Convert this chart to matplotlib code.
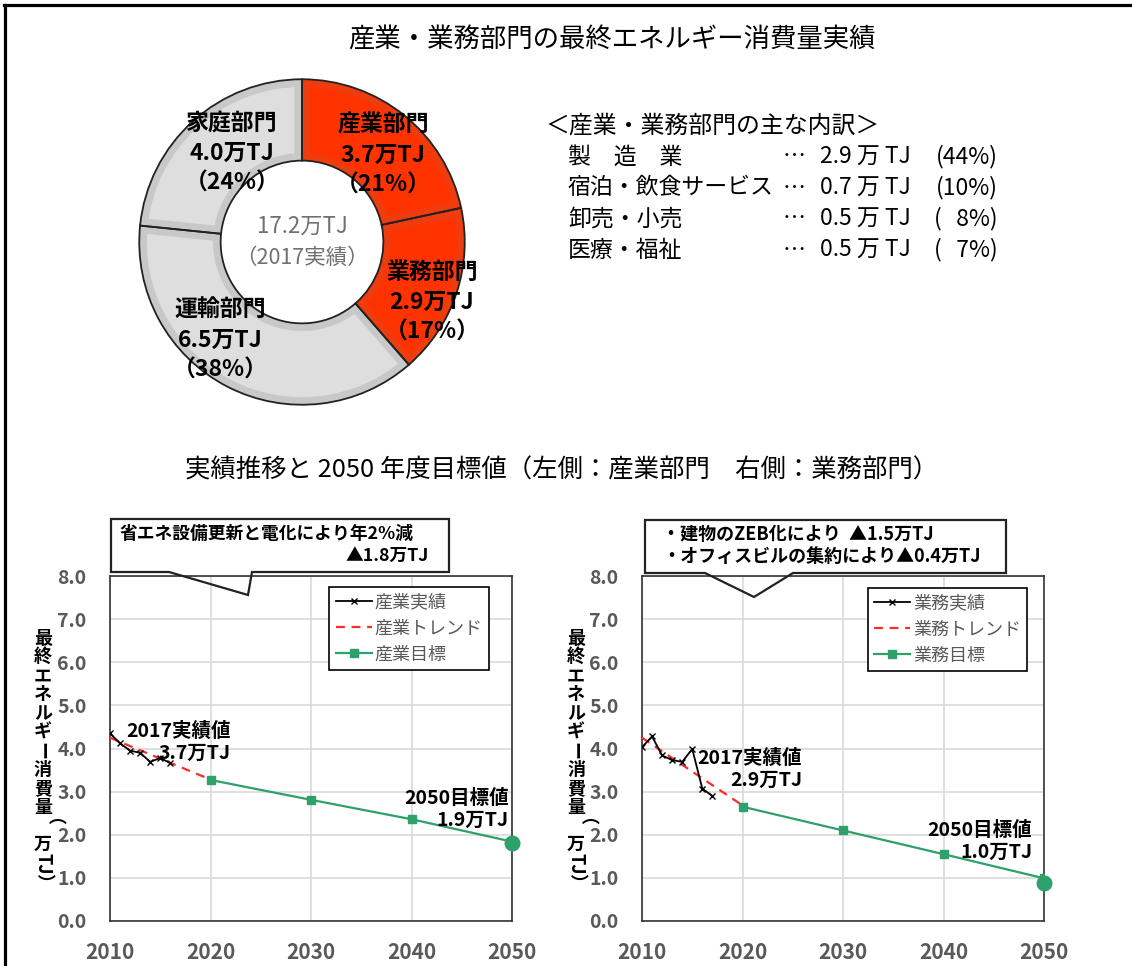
import matplotlib
matplotlib.use('Agg')
import matplotlib.pyplot as plt
from matplotlib.lines import Line2D
from matplotlib.patches import Polygon

plt.rcParams['font.family'] = ['Noto Sans CJK JP', 'DejaVu Sans']

W, H = 1132, 966

# ---------------- data ----------------
title = "産業・業務部門の最終エネルギー消費量実績"
sectors = ["産業部門", "業務部門", "運輸部門", "家庭部門"]
sector_values = [3.7, 2.9, 6.5, 4.0]
sector_pcts = [21, 17, 38, 24]
sector_colors = ["#FF3300", "#FF3300", "#DEDEDE", "#DEDEDE"]
sector_bands = ["#EE3C0E", "#EE3C0E", "#C8C8C8", "#C8C8C8"]
total_value = 17.2
total_note = "（2017実績）"

breakdown_title = "＜産業・業務部門の主な内訳＞"
breakdown_labels = ["製　造　業", "宿泊・飲食サービス", "卸売・小売", "医療・福祉"]
breakdown_values = [2.9, 0.7, 0.5, 0.5]
breakdown_pcts = [44, 10, 8, 7]

subtitle = "実績推移と 2050 年度目標値（左側：産業部門　右側：業務部門）"

target_years = [2020, 2030, 2040, 2050]
trend_years = [2010, 2020]

ind_actual_years = [2010, 2011, 2012, 2013, 2014, 2015, 2016]
ind_actual = [4.35, 4.12, 3.95, 3.90, 3.69, 3.78, 3.66]
ind_trend = [4.25, 3.28]
ind_target = [3.27, 2.81, 2.36, 1.84]
ind_goal_2050 = 1.80

com_actual_years = [2010, 2011, 2012, 2013, 2014, 2015, 2016, 2017]
com_actual = [4.03, 4.28, 3.84, 3.73, 3.69, 3.99, 3.07, 2.90]
com_trend = [4.25, 2.68]
com_target = [2.65, 2.10, 1.55, 0.99]
com_goal_2050 = 0.88

x_ticks = [2010, 2020, 2030, 2040, 2050]
y_ticks = [0, 1, 2, 3, 4, 5, 6, 7, 8]

ylabel_chars = ["最", "終", "エ", "ネ", "ル", "ギ", "ー", "消", "費", "量", "（", "万", "TJ", "）"]
ylabel_rot = ["ー", "（", "TJ", "）"]

GREEN = "#2EA06A"
RED = "#FF2A2A"
GRAY_TXT = "#595959"

fig = plt.figure(figsize=(W / 100, H / 100), dpi=100)


def fx(x):
    return x / W


def fy(y):
    return 1 - y / H


def ftext(x, y, s, **kw):
    kw.setdefault('va', 'center')
    return fig.text(fx(x), fy(y), s, **kw)


# figure frame (top + left)
fig.add_artist(Line2D([fx(5), fx(5)], [fy(5), fy(966)], color='black', lw=2.3))
fig.add_artist(Line2D([fx(4), fx(1132)], [fy(5), fy(5)], color='black', lw=2.3))

# title
ftext(612, 40, title, ha='center', fontsize=19, color='black')

# ---------------- donut ----------------
cx, cy, R = 302, 242, 166
axp = fig.add_axes([fx(cx - R), fy(cy + R), 2 * R / W, 2 * R / H])
axp.set_aspect('equal')
wedges, _ = axp.pie(sector_values, startangle=90, counterclock=False,
                    colors=sector_colors, radius=1,
                    wedgeprops=dict(width=0.5, edgecolor='none'))
for w, band in zip(wedges, sector_bands):
    w.set_edgecolor(band)
    w.set_linewidth(11)
    w.set_clip_on(True)
    w.set_clip_path(w)
axp.pie(sector_values, startangle=90, counterclock=False, radius=1,
        colors=['none'] * len(sector_values),
        wedgeprops=dict(width=0.5, edgecolor='#222222', linewidth=1.3, fill=False))
axp.set_xlim(-1.02, 1.02)
axp.set_ylim(-1.02, 1.02)
axp.axis('off')

label_pos = [(383, 125), (432, 272), (220, 310), (232, 123)]
for name, v, p, (lx, ly) in zip(sectors, sector_values, sector_pcts, label_pos):
    ftext(lx, ly, name, ha='center', fontsize=16.5, fontweight='bold')
    ftext(lx, ly + 30, f"{v:.1f}万TJ", ha='center', fontsize=16.5, fontweight='bold')
    ftext(lx, ly + 60, f"（{p}%）", ha='center', fontsize=16.5, fontweight='bold')

ftext(302, 226, f"{total_value:.1f}万TJ", ha='center', fontsize=16, color='#707070')
ftext(302, 258, total_note, ha='center', fontsize=15.5, color='#707070')

# ---------------- breakdown ----------------
ftext(546, 126, breakdown_title, ha='left', fontsize=17.2)
for i, (lab, v, p) in enumerate(zip(breakdown_labels, breakdown_values, breakdown_pcts)):
    yy = 157 + 31 * i
    ftext(568, yy, lab, ha='left', fontsize=16.5)
    ftext(783, yy, "…", ha='left', fontsize=16.5)
    ftext(820, yy, f"{v:.1f} 万 TJ", ha='left', fontsize=16.5)
    pct = f"{p}" if p >= 10 else "\u2007" + f"{p}"
    ftext(998, yy, f"({pct}%)", ha='right', fontsize=16.5)

# subtitle
ftext(562, 470, subtitle, ha='center', fontsize=18.3)


# ---------------- line charts ----------------
def make_chart(left_px, actual_years, actual, trend, target, goal, names,
               ann17, ann50, legend_anchor, ylabel_x):
    ax = fig.add_axes([fx(left_px), fy(921), 402 / W, 345 / H])
    ax.set_xlim(2010, 2050)
    ax.set_ylim(0, 8)
    ax.set_xticks(x_ticks)
    ax.set_yticks(y_ticks)
    ax.set_yticklabels([f"{t:.1f}" for t in y_ticks])
    ax.grid(True, color='#D9D9D9', lw=1.2)
    ax.set_axisbelow(True)
    for s in ax.spines.values():
        s.set_color('#333333')
        s.set_linewidth(1.2)
    ax.tick_params(axis='both', length=0, colors=GRAY_TXT)
    ax.tick_params(axis='x', pad=15, labelsize=15)
    ax.tick_params(axis='y', pad=17, labelsize=14)
    for lab in ax.get_xticklabels() + ax.get_yticklabels():
        lab.set_fontweight('bold')

    l1, = ax.plot(actual_years, actual, color='black', lw=1.3, marker='x',
                  markersize=5, markeredgewidth=1.0, label=names[0], zorder=4)
    l2, = ax.plot(trend_years, trend, color=RED, lw=1.6, ls=(0, (4, 3)),
                  label=names[1], zorder=3)
    l3, = ax.plot(target_years, target, color=GREEN, lw=1.6, marker='s',
                  markersize=6, label=names[2], zorder=3)
    ax.plot([target_years[-1]], [goal], 'o', color=GREEN, markersize=10.5,
            clip_on=False, zorder=5)

    leg = ax.legend(handles=[l1, l2, l3], loc='upper left',
                    bbox_to_anchor=legend_anchor, borderaxespad=0,
                    fancybox=False, framealpha=1, edgecolor='black',
                    fontsize=13, handlelength=2.0, handletextpad=0.15,
                    labelspacing=0.45, borderpad=0.35, labelcolor=GRAY_TXT)
    leg.get_frame().set_linewidth(1.2)

    (t1, t2, xr, y1) = ann17
    ftext(xr, y1, t1, ha='right', fontsize=14, fontweight='bold')
    ftext(xr, y1 + 22, t2, ha='right', fontsize=14, fontweight='bold')
    (t1, t2, xr, y1) = ann50
    ftext(xr, y1, t1, ha='right', fontsize=14, fontweight='bold')
    ftext(xr, y1 + 22, t2, ha='right', fontsize=14, fontweight='bold')

    # vertical y label
    for i, ch in enumerate(ylabel_chars):
        rot = -90 if ch in ylabel_rot else 0
        ftext(ylabel_x, 638 + 18.8 * i, ch, ha='center', fontsize=13,
              fontweight='bold', rotation=rot)
    return ax


make_chart(110, ind_actual_years, ind_actual, ind_trend, ind_target, ind_goal_2050,
           ["産業実績", "産業トレンド", "産業目標"],
           ("2017実績値", "3.7万TJ", 231, 731),
           ("2050目標値", "1.9万TJ", 509, 798),
           (0.546, 0.968), 43)

make_chart(642, com_actual_years, com_actual, com_trend, com_target, com_goal_2050,
           ["業務実績", "業務トレンド", "業務目標"],
           ("2017実績値", "2.9万TJ", 802, 758),
           ("2050目標値", "1.0万TJ", 1032, 830),
           (0.562, 0.965), 576)

# ---------------- callouts ----------------
call_left = [(111, 519), (449, 519), (449, 572), (252, 572), (248, 595), (169, 572), (111, 572)]
call_right = [(645, 520), (1006, 520), (1006, 573), (793, 573), (754, 597), (705, 573), (645, 573)]
for pts in (call_left, call_right):
    poly = Polygon([(fx(x), fy(y)) for x, y in pts], closed=True,
                   transform=fig.transFigure, facecolor='none',
                   edgecolor='#222222', lw=1.6, zorder=6)
    fig.add_artist(poly)

ftext(120, 534, "省エネ設備更新と電化により年2%減", ha='left', fontsize=12.8, fontweight='bold')
ftext(429, 556, "▲1.8万TJ", ha='right', fontsize=12.8, fontweight='bold')
ftext(662, 535, "・建物のZEB化により  ▲1.5万TJ", ha='left', fontsize=13, fontweight='bold')
ftext(662, 557, "・オフィスビルの集約により▲0.4万TJ", ha='left', fontsize=13, fontweight='bold')

fig.savefig('out.png', dpi=100)
